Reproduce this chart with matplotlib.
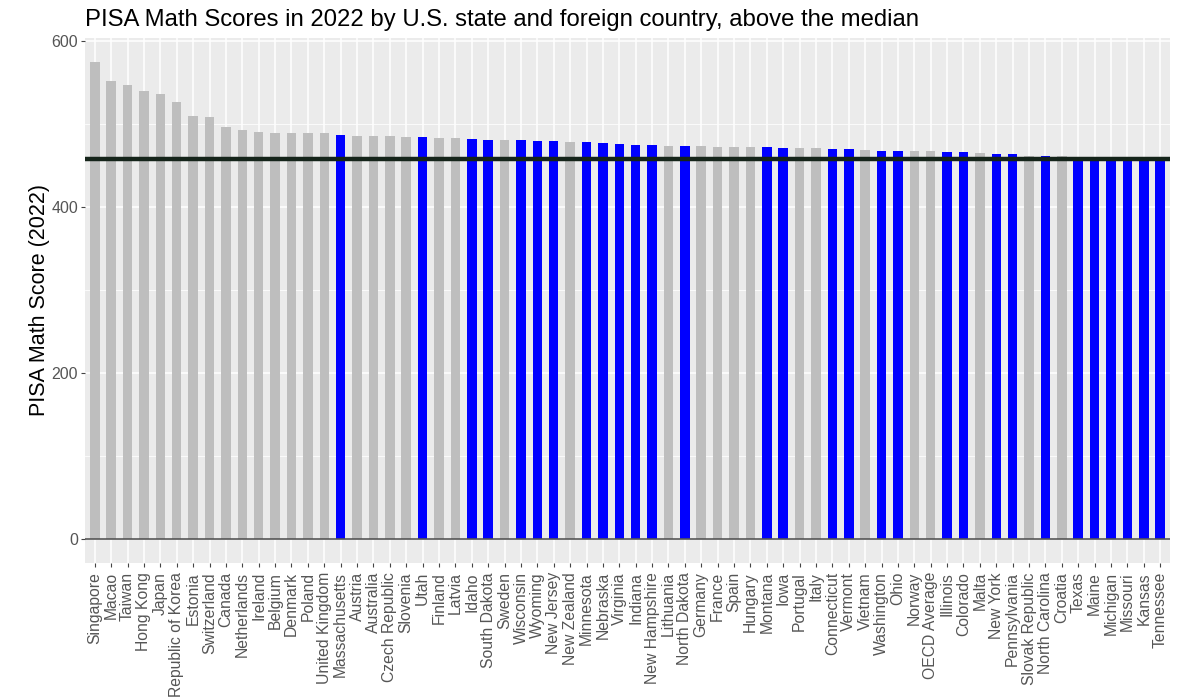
import matplotlib.pyplot as plt
import numpy as np

plt.rcParams['font.family'] = ['Liberation Sans', 'DejaVu Sans']

# 数据
places = ['Singapore', 'Macao', 'Taiwan', 'Hong Kong', 'Japan', 'Republic of Korea', 'Estonia',
          'Switzerland', 'Canada', 'Netherlands', 'Ireland', 'Belgium', 'Denmark', 'Poland',
          'United Kingdom', 'Massachusetts', 'Austria', 'Australia', 'Czech Republic', 'Slovenia',
          'Utah', 'Finland', 'Latvia', 'Idaho', 'South Dakota', 'Sweden', 'Wisconsin', 'Wyoming',
          'New Jersey', 'New Zealand', 'Minnesota', 'Nebraska', 'Virginia', 'Indiana',
          'New Hampshire', 'Lithuania', 'North Dakota', 'Germany', 'France', 'Spain', 'Hungary',
          'Montana', 'Iowa', 'Portugal', 'Italy', 'Connecticut', 'Vermont', 'Vietnam', 'Washington',
          'Ohio', 'Norway', 'OECD Average', 'Illinois', 'Colorado', 'Malta', 'New York',
          'Pennsylvania', 'Slovak Republic', 'North Carolina', 'Croatia', 'Texas', 'Maine',
          'Michigan', 'Missouri', 'Kansas', 'Tennessee']

scores = [575, 552, 547, 540, 536, 527, 510, 508, 497, 493, 491, 489, 489, 489, 489, 487, 486,
          486, 486, 484, 484, 483, 483, 482, 481, 481, 481, 480, 480, 478, 478, 477, 476, 475,
          475, 474, 474, 474, 473, 473, 473, 472, 471, 471, 471, 470, 470, 469, 468, 468, 467,
          467, 466, 466, 465, 464, 464, 462, 462, 461, 460, 459, 459, 459, 459, 459]

us_states = ['Massachusetts', 'Utah', 'Idaho', 'South Dakota', 'Wisconsin', 'Wyoming', 'New Jersey',
             'Minnesota', 'Nebraska', 'Virginia', 'Indiana', 'New Hampshire', 'North Dakota',
             'Montana', 'Iowa', 'Connecticut', 'Vermont', 'Washington', 'Ohio', 'Illinois',
             'Colorado', 'New York', 'Pennsylvania', 'North Carolina', 'Texas', 'Maine',
             'Michigan', 'Missouri', 'Kansas', 'Tennessee']

median_score = 458.5

colors = ['#0000FF' if p in us_states else '#BEBEBE' for p in places]
x = np.arange(len(places))

fig = plt.figure(figsize=(12, 6.98), dpi=100)
ax = fig.add_axes([0.0708, 0.1934, 0.9042, 0.7522])
ax.set_facecolor('#EBEBEB')

# 网格线
ax.set_yticks([0, 200, 400, 600])
ax.set_yticks([100, 300, 500], minor=True)
ax.grid(True, which='major', color='white', linewidth=1.1)
ax.grid(True, which='minor', axis='y', color='white', linewidth=0.55)
ax.set_axisbelow(True)

ax.bar(x, scores, width=0.58, color=colors, zorder=2)
ax.axhline(0, color='#555555', linewidth=1.2, zorder=3)
ax.axhline(median_score, color='#15241A', linewidth=3.2, zorder=4)

ax.set_xlim(-0.6, len(places) - 0.4)
ax.set_ylim(-28.75, 603.75)
ax.set_xticks(x)
ax.set_xticklabels(places, rotation=90, fontsize=11.3, color='#555555')
ax.tick_params(axis='y', labelsize=11.5, labelcolor='#555555', pad=2)
ax.tick_params(which='both', color='#444444', length=3, width=0.8)
ax.tick_params(which='minor', length=0)

for s in ax.spines.values():
    s.set_visible(False)

ax.set_ylabel('PISA Math Score (2022)', fontsize=15.5, labelpad=1)
fig.text(0.0708, 0.963, 'PISA Math Scores in 2022 by U.S. state and foreign country, above the median',
         fontsize=17.2, ha='left', va='baseline')

fig.savefig('out.png', dpi=100)
